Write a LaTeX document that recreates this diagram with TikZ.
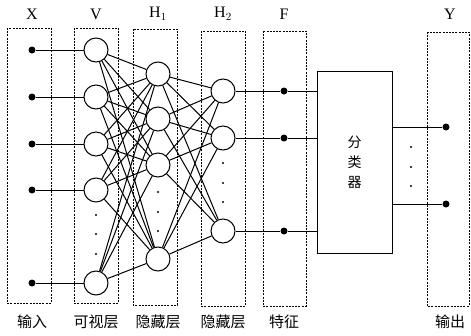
\documentclass[tikz,border=0pt]{standalone}
\usepackage{fontspec}
\setmainfont{Liberation Serif}
\newfontfamily\cjk{Noto Sans CJK SC}
\usetikzlibrary{positioning}

\begin{document}
\begin{tikzpicture}[x=1pt, y=-1pt, line width=1pt,
    neuron/.style={circle, draw, fill=white, minimum size=24pt, inner sep=0pt},
    dot/.style={circle, fill=black, minimum size=7pt, inner sep=0pt},
    layerbox/.style={draw, line width=0.8pt, dash pattern=on 2pt off 1.2pt},
    toplabel/.style={font=\fontsize{16}{18}\selectfont},
    botlabel/.style={font=\cjk\fontsize{15}{16}\selectfont}]

    % Frame of the picture
    \useasboundingbox (0,0) rectangle (471,335);
    \def\xX{32}
    \def\xV{96}
    \def\xH{158}
    \def\xG{223}
    \def\xF{284}
    \def\xY{446}
    \def\ytop{14}
    \def\ybot{322}

    % Dashed layer boxes
    \draw[layerbox] (7,28) rectangle (51,303);
    \draw[layerbox] (74,28) rectangle (118,303);
    \draw[layerbox] (133,29) rectangle (177,305);
    \draw[layerbox] (201,31) rectangle (245,306);
    \draw[layerbox] (263,31) rectangle (306,306);
    \draw[layerbox] (427,32) rectangle (469,306);

    % Layer names
    \node[toplabel] (tX) at (\xX,\ytop) {X};
    \node[toplabel] (tV) at (\xV,\ytop) {V};
    \node[toplabel] (tH) at (\xH,\ytop) {H$_1$};
    \node[toplabel] (tG) at (\xG,\ytop) {H$_2$};
    \node[toplabel] (tF) at (\xF,\ytop) {F};
    \node[toplabel] (tY) at (450,\ytop) {Y};
    \node[botlabel] (bX) at (\xX,\ybot) {输入};
    \node[botlabel] (bV) at (\xV,\ybot) {可视层};
    \node[botlabel] (bH) at (\xH,\ybot) {隐藏层};
    \node[botlabel] (bG) at (\xG,\ybot) {隐藏层};
    \node[botlabel] (bF) at (\xF,\ybot) {特征};
    \node[botlabel] (bY) at (450,\ybot) {输出};

    % Input and visible layer
    \foreach \i/\y in {1/50,2/97,3/144,4/190,5/283}{
        \node[dot] (x\i) at (\xX,\y) {};
        \node[neuron] (v\i) at (\xV,\y) {};
        \draw (x\i) -- (v\i);
    }

    % Hidden layers
    \foreach \i/\y in {1/74,2/119,3/165,4/259}
        \node[neuron] (h\i) at (\xH,\y) {};
    \foreach \i/\y in {1/91,2/138,3/231}{
        \node[neuron] (g\i) at (\xG,\y) {};
        \node[dot] (f\i) at (\xF,\y) {};
        \draw (g\i) -- (f\i);
    }

    % Full connections
    \foreach \i in {1,...,5}
        \foreach \j in {1,...,4}
            \draw (v\i) -- (h\j);
    \foreach \i in {1,...,4}
        \foreach \j in {1,...,3}
            \draw (h\i) -- (g\j);

    % Classifier
    \node[draw, minimum width=75pt, minimum height=182pt, align=center,
          font=\cjk\fontsize{14}{20}\selectfont] (cls) at (354.5,162) {分\\类\\器};
    \foreach \i in {1,2,3}
        \draw (f\i) -- (f\i -| cls.west);
    \foreach \i/\y in {1/127,2/204}{
        \node[dot] (y\i) at (\xY,\y) {};
        \draw (y\i) -- (y\i -| cls.east);
    }

    % Ellipsis dots
    \foreach \y in {215,234,254}
        \fill (\xV,\y) circle (1.1pt);
    \foreach \y in {192,212,231}
        \fill (\xH,\y) circle (1.1pt);
    \foreach \y in {163,183,202}
        \fill (\xG,\y) circle (1.1pt);
    \foreach \y in {147,167,186}
        \fill (411,\y) circle (1.1pt);

\end{tikzpicture}
\end{document}
